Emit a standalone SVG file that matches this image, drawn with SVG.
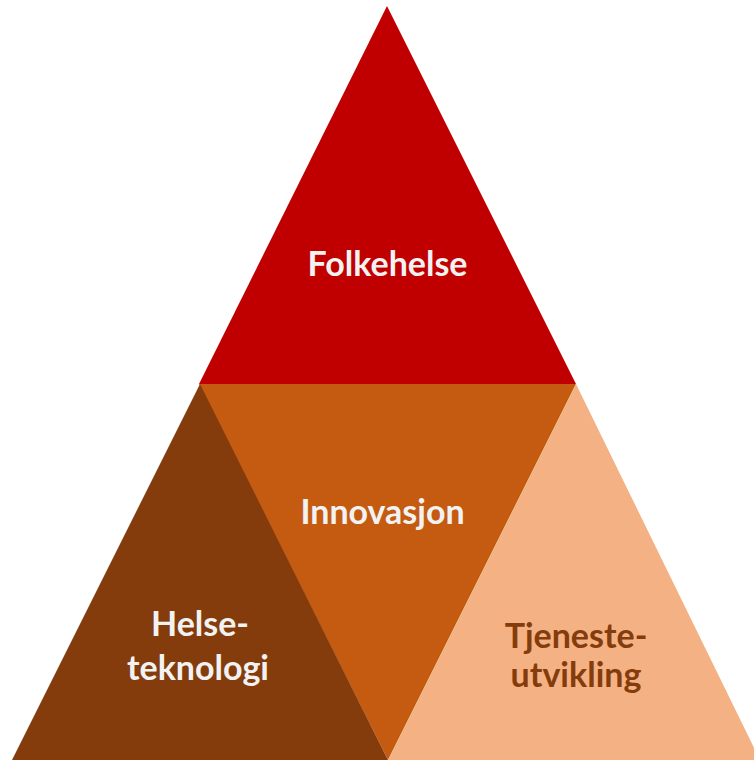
<svg xmlns="http://www.w3.org/2000/svg" width="754" height="760" viewBox="0 0 754 760">
<style>
.lbl{font-family:Lato,"Open Sans","Liberation Sans",sans-serif;font-weight:bold;font-size:34px;text-anchor:middle;fill:#F2F2F2}
.dark{fill:#843C0C}
</style>
<rect width="754" height="760" fill="#FFFFFF"/>
<g id="folkehelse">
<polygon points="387,6 576,384 199,384" fill="#C00000"/>
<text class="lbl" x="387.5" y="276">Folkehelse</text>
</g>
<g id="innovasjon">
<polygon points="199,384 576,384 388,760" fill="#C55A11"/>
<text class="lbl" x="382.5" y="524">Innovasjon</text>
</g>
<g id="helseteknologi">
<polygon points="200,384 388,760 12,760" fill="#843C0C"/>
<text class="lbl" x="200" y="636">Helse-</text>
<text class="lbl" x="198" y="680">teknologi</text>
</g>
<g id="tjenesteutvikling">
<polygon points="576,384 760,760 388,760" fill="#F4B183"/>
<text class="lbl dark" x="576" y="648">Tjeneste-</text>
<text class="lbl dark" x="576" y="687">utvikling</text>
</g>
<g id="connectors"/>
</svg>
